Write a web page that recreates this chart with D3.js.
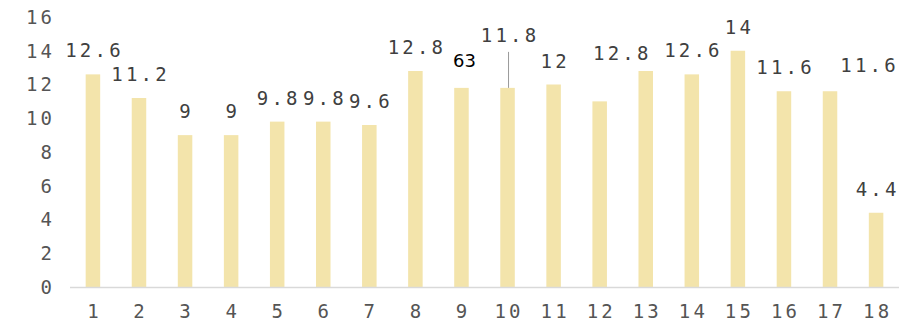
<!DOCTYPE html>
<html><head><meta charset="utf-8">
<script src="https://cdn.jsdelivr.net/npm/d3@7"></script>
<style>
body{margin:0;background:#fff;}
svg{display:block;}
</style></head>
<body><svg id="c" width="916" height="323"></svg>
<script>
const categories = ["1","2","3","4","5","6","7","8","9","10","11","12","13","14","15","16","17","18"];
const values = [12.6,11.2,9,9,9.8,9.8,9.6,12.8,11.8,11.8,12,11,12.8,12.6,14,11.6,11.6,4.4];
const labelTexts = ["12.6","11.2","9","9","9.8","9.8","9.6","12.8","63","11.8","12","","12.8","12.6","14","11.6","11.6","4.4"];
const yTicks = [0,2,4,6,8,10,12,14,16];
// label layout nudges (dx, dy) relative to default position above bar
const labelNudge = [[0,0],[0,0],[0,0],[0,0],[0,0],[0,0],[0,0],[0,0],[3,-4],[1,-29],[0,0],[0,0],[-25,6],[0,0],[0,0],[0,0],[38,-2],[0,0]];
const leaderIdx = [9];

const svg = d3.select("#c");
const mono = "'DejaVu Sans Mono', monospace";
const ls = 3.2;
const x = d3.scaleBand().domain(categories).range([70, 899]).paddingInner(0.685).paddingOuter(0.34);
const y = d3.scaleLinear().domain([0, 16]).range([287, 17]);

// bars
svg.append("g").selectAll("rect").data(values).join("rect")
  .attr("x", (d,i) => x(categories[i]))
  .attr("y", d => y(d))
  .attr("width", x.bandwidth())
  .attr("height", d => y(0) - y(d))
  .attr("fill", "#F3E4AB");

// x axis line
svg.append("line").attr("x1", 70).attr("x2", 899).attr("y1", y(0)+0.5).attr("y2", y(0)+0.5)
  .attr("stroke", "#d9d9d9").attr("stroke-width", 1.5);

// y tick labels
svg.append("g").selectAll("text").data(yTicks).join("text")
  .attr("x", 52 + ls).attr("y", d => y(d)).attr("dy", "0.36em")
  .attr("text-anchor", "end")
  .style("font-family", mono).style("font-size", "19px").style("letter-spacing", ls + "px")
  .attr("fill", "#555").text(d => d);

// x tick labels
svg.append("g").selectAll("text").data(categories).join("text")
  .attr("x", d => x(d) + x.bandwidth()/2 + ls/2).attr("y", 318)
  .attr("text-anchor", "middle")
  .style("font-family", mono).style("font-size", "19px").style("letter-spacing", ls + "px")
  .attr("fill", "#555").text(d => d);

// leader lines
leaderIdx.forEach(i => {
  const cx = x(categories[i]) + x.bandwidth()/2 + labelNudge[i][0];
  svg.append("line").attr("x1", cx).attr("x2", cx)
    .attr("y1", y(values[i]) - 17 + labelNudge[i][1] + 10).attr("y2", y(values[i]))
    .attr("stroke", "#999").attr("stroke-width", 1);
});

// value labels
svg.append("g").selectAll("text").data(values).join("text")
  .attr("x", (d,i) => x(categories[i]) + x.bandwidth()/2 + labelNudge[i][0] + (labelTexts[i] === "63" ? 0 : ls/2))
  .attr("y", (d,i) => y(d) - 17 + labelNudge[i][1])
  .attr("text-anchor", "middle")
  .style("font-family", (d,i) => labelTexts[i] === "63" ? "'DejaVu Sans', sans-serif" : mono)
  .style("font-size", (d,i) => labelTexts[i] === "63" ? "18px" : "19px")
  .style("letter-spacing", (d,i) => labelTexts[i] === "63" ? "0px" : ls + "px")
  .attr("fill", (d,i) => labelTexts[i] === "63" ? "#000" : "#404040")
  .text((d,i) => labelTexts[i]);
</script></body></html>
